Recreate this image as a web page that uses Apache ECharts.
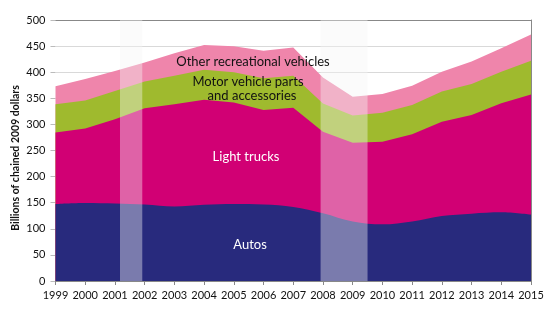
<!DOCTYPE html>
<html>
<head>
<meta charset="utf-8">
<script src="https://cdn.jsdelivr.net/npm/echarts@6/dist/echarts.min.js"></script>
<style>
  html, body { margin: 0; padding: 0; background: #fff; }
  #chart { width: 557px; height: 321px; }
</style>
</head>
<body>
<div id="chart"></div>
<script>
// Real personal consumption, motor vehicles and parts (billions of chained 2009 dollars)
const years = [1999, 2000, 2001, 2002, 2003, 2004, 2005, 2006, 2007, 2008, 2009, 2010, 2011, 2012, 2013, 2014, 2015];
const autos = [147.5, 149.5, 148.5, 146.5, 142.5, 146, 147.5, 146.5, 142, 130, 114, 108.5, 114, 124.5, 129, 131.5, 127];
const lightTrucks = [137, 142.5, 161.5, 184.5, 196, 201, 194.5, 181, 190, 156, 151, 158.5, 167, 180.5, 189, 209, 230.5];
const partsAccessories = [54, 54, 54, 51, 54.5, 57.5, 58, 61, 61, 54, 52, 55.5, 56, 58, 59.5, 60.5, 64.5];
const otherRecreational = [34.5, 41, 38.5, 36.5, 43.5, 47.5, 49.5, 52.5, 54.5, 50, 36, 35.5, 37, 38, 43, 45, 50];

// Recession periods (fractional years)
const recessions = [[2001.17, 2001.92], [2007.92, 2009.5]];

const yTicks = { min: 0, max: 500, interval: 50 };
const FONT = 'Lato, "Open Sans", sans-serif';

// Running totals so each layer sits on top of the ones below it
const layers = [autos, lightTrucks, partsAccessories, otherRecreational];
const totals = layers.map((_, k) =>
  years.map((y, i) => [y, layers.slice(0, k + 1).reduce((s, arr) => s + arr[i], 0)]));

function areaSeries(name, data, color, z, smooth) {
  return {
    name, type: 'line', smooth: smooth || false, z,
    symbol: 'none', data,
    lineStyle: { width: 0 },
    areaStyle: { color, opacity: 1 },
    itemStyle: { color },
    emphasis: { disabled: true },
    animation: false
  };
}

function label(text, x, y, color, font) {
  return {
    type: 'text', x, y, z: 50,
    style: { text, fill: color, font: font || ('13px ' + FONT), align: 'center', verticalAlign: 'middle' }
  };
}

const chart = echarts.init(document.getElementById('chart'), null, { renderer: 'canvas' });
chart.setOption({
  animation: false,
  grid: { left: 55.5, right: 26, top: 20, bottom: 40, containLabel: false },
  xAxis: [{
    type: 'value', min: years[0], max: years[years.length - 1], interval: 1,
    axisLine: { show: true, lineStyle: { color: '#888', width: 1 } },
    axisTick: { show: true, length: 4, lineStyle: { color: '#888' } },
    axisLabel: { color: '#111', fontFamily: FONT, fontSize: 11, margin: 9, formatter: v => String(v) },
    splitLine: { show: false }
  }, {
    type: 'value', position: 'top', min: years[0], max: years[years.length - 1],
    axisLine: { show: true, onZero: false, lineStyle: { color: '#888', width: 1 } },
    axisTick: { show: false }, axisLabel: { show: false }, splitLine: { show: false }
  }],
  yAxis: [{
    type: 'value', min: yTicks.min, max: yTicks.max, interval: yTicks.interval,
    axisLine: { show: false },
    axisTick: { show: true, length: 5, lineStyle: { color: '#bbb' } },
    axisLabel: { color: '#111', fontFamily: FONT, fontSize: 11, margin: 10 },
    splitLine: { show: true, lineStyle: { color: '#d9d9d9', width: 1 } }
  }, {
    type: 'value', position: 'right', min: yTicks.min, max: yTicks.max,
    axisLine: { show: true, lineStyle: { color: '#888', width: 1 } },
    axisTick: { show: false }, axisLabel: { show: false }, splitLine: { show: false }
  }],
  series: [
    areaSeries('Other recreational vehicles', totals[3], '#ef85ab', 2),
    areaSeries('Motor vehicle parts and accessories', totals[2], '#9fba2e', 3),
    areaSeries('Light trucks', totals[1], '#d10074', 4),
    areaSeries('Autos', totals[0], '#282a7d', 5, 0.35),
    {
      name: 'Recessions', type: 'line', data: [], z: 10, silent: true,
      markArea: {
        silent: true, z: 20,
        itemStyle: { color: 'rgba(246,246,246,0.4)' },
        data: recessions.map(r => [{ xAxis: r[0] }, { xAxis: r[1] }])
      }
    }
  ],
  graphic: [
    label('Other recreational vehicles', 253, 62, '#111'),
    label('Motor vehicle parts', 248, 82, '#111'),
    label('and accessories', 252, 96, '#111'),
    label('Light trucks', 246, 157, '#fff'),
    label('Autos', 250, 245, '#fff'),
    Object.assign(label('Billions of chained 2009 dollars', 16, 158, '#111', 'bold 10.5px ' + FONT), { rotation: Math.PI / 2 })
  ]
});
</script>
</body>
</html>
